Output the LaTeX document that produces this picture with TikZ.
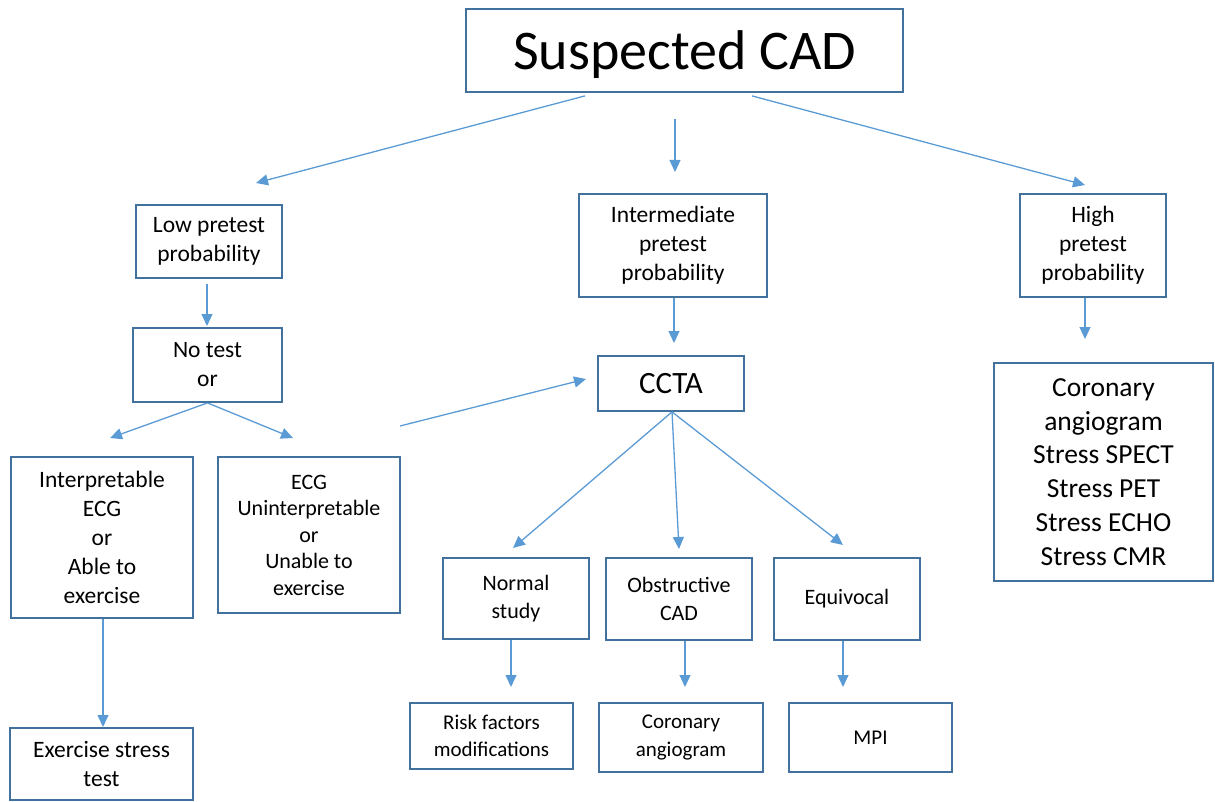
\documentclass[tikz,border=0pt]{standalone}
\usepackage{fontspec}
\setmainfont{Carlito}
\usetikzlibrary{arrows.meta}
\definecolor{boxc}{HTML}{41719C}
\definecolor{arrc}{HTML}{5B9BD5}
\tikzset{
  box/.style={draw=boxc, line width=1.8pt, fill=white, inner sep=2pt, align=center, text=black,
    font=\fontsize{23.5}{29}\selectfont},
  midbox/.style={box, font=\fontsize{22}{27.5}\selectfont},
  smallbox/.style={box, font=\fontsize{21}{27.5}\selectfont},
  arr/.style={draw=arrc, line width=1.3pt, -{Triangle[length=12pt,width=11pt]}},
}
\begin{document}
\begin{tikzpicture}[x=1pt,y=-1pt]
\useasboundingbox (0,0) rectangle (1215,802);
% nodes
\node[box, minimum width=437pt, minimum height=83pt, text height=48pt, text depth=10pt, font=\fontsize{56}{66}\selectfont] (sus) at (684.5,50.5) {Suspected CAD};
\node[box, minimum width=146pt, minimum height=73pt] (low) at (209,241.5) {Low pretest\\probability};
\node[box, minimum width=188pt, minimum height=103pt] (inter) at (673,245.5) {Intermediate\\pretest\\probability};
\node[box, minimum width=146pt, minimum height=103pt] (high) at (1093,245.5) {High\\pretest\\probability};
\node[box, minimum width=149pt, minimum height=74pt] (notest) at (207.5,365) {No test\\or};
\node[box, minimum width=146pt, minimum height=55pt, font=\fontsize{31}{36}\selectfont] (ccta) at (671,383.5) {CCTA};
\node[box, minimum width=219pt, minimum height=218pt, font=\fontsize{27.5}{33.8}\selectfont] (big) at (1103.5,472) {Coronary\\angiogram\\Stress SPECT\\Stress PET\\Stress ECHO\\Stress CMR};
\node[box, minimum width=182pt, minimum height=161pt] (interp) at (102,537.5) {Interpretable\\ECG\\or\\Able to\\exercise};
\node[midbox, minimum width=182pt, minimum height=156pt, font=\fontsize{22}{26.5}\selectfont] (ecg) at (309,535) {ECG\\Uninterpretable\\or\\Unable to\\exercise};
\node[midbox, minimum width=146pt, minimum height=81pt] (normal) at (516,598.5) {Normal\\study};
\node[midbox, minimum width=146pt, minimum height=82pt] (obstr) at (679,599) {Obstructive\\CAD};
\node[midbox, minimum width=146pt, minimum height=82pt] (equiv) at (847,599) {Equivocal};
\node[smallbox, minimum width=163pt, minimum height=66pt] (risk) at (491.5,736) {Risk factors\\modifications};
\node[smallbox, minimum width=164pt, minimum height=69pt] (coron) at (681,737.5) {Coronary\\angiogram};
\node[smallbox, minimum width=163pt, minimum height=69pt] (mpi) at (870.5,737.5) {MPI};
\node[box, minimum width=183pt, minimum height=72pt] (exer) at (101.5,764) {Exercise stress\\test};
% free arrow ends
\coordinate (e1) at (256,183);
\coordinate (e2) at (675,172);
\coordinate (e3) at (1085,185);
\coordinate (e4) at (207,326);
\coordinate (e5) at (674,343);
\coordinate (e6) at (1085,339);
\coordinate (e7) at (110,438);
\coordinate (e8) at (293,438);
\coordinate (e9) at (586,379);
\coordinate (e10) at (513,548);
\coordinate (e11) at (679,549);
\coordinate (e12) at (843,545);
\coordinate (e13) at (511,687);
\coordinate (e14) at (685,687);
\coordinate (e15) at (843,687);
\coordinate (e16) at (103,727);
\coordinate (s2) at (675,119);
\coordinate (s9) at (400,426);
% connectors
\draw[arr] ([xshift=-99.5pt,yshift=-3pt]sus.south) -- (e1);
\draw[arr] (s2) -- (e2);
\draw[arr] ([xshift=67.5pt,yshift=-3pt]sus.south) -- (e3);
\draw[arr] ([xshift=-2pt,yshift=-5pt]low.south) -- (e4);
\draw[arr] ([xshift=1pt]inter.south) -- (e5);
\draw[arr] ([xshift=-8pt]high.south) -- (e6);
\draw[arr] (notest.south) -- (e7);
\draw[arr] (notest.south) -- (e8);
\draw[arr] (s9) -- (e9);
\draw[arr] ([xshift=1pt]ccta.south) -- (e10);
\draw[arr] ([xshift=1pt]ccta.south) -- (e11);
\draw[arr] ([xshift=1pt]ccta.south) -- (e12);
\draw[arr] ([xshift=-5pt]normal.south) -- (e13);
\draw[arr] ([xshift=6pt]obstr.south) -- (e14);
\draw[arr] ([xshift=-4pt]equiv.south) -- (e15);
\draw[arr] ([xshift=1pt]interp.south) -- (e16);
\end{tikzpicture}
\end{document}
